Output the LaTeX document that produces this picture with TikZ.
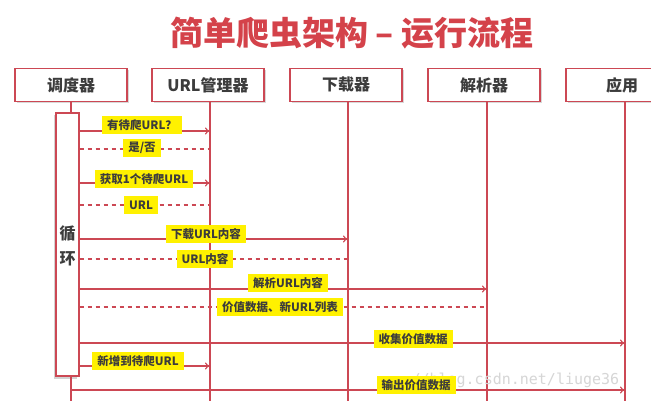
\documentclass[tikz,border=0pt]{standalone}
\usepackage{fontspec}
\setmainfont{Noto Sans CJK SC}
\newfontfamily\wmfont{DejaVu Sans Mono}
\usetikzlibrary{shadows,arrows.meta}
\definecolor{lred}{RGB}{204,72,84}
\definecolor{tred}{RGB}{212,66,74}
\definecolor{labyel}{RGB}{255,241,0}
\definecolor{txt}{RGB}{60,60,60}
\begin{document}
\begin{tikzpicture}[x=1pt,y=-1pt,
  actor/.style={draw=lred, line width=1.6pt, fill=white, minimum width=112pt, minimum height=33pt,
    inner sep=0pt, font=\bfseries\fontsize{16}{16}\selectfont, text=txt,
    drop shadow={shadow xshift=1.5pt, shadow yshift=-1.5pt, fill=black!30}},
  life/.style={draw=lred, line width=1.3pt},
  msg/.style={draw=lred, line width=1.1pt, -{To[length=5pt,width=7pt]}},
  ret/.style={draw=lred, line width=1.1pt, dash pattern=on 4pt off 4pt},
  lab/.style={fill=labyel, text=txt, font=\bfseries\fontsize{11.5}{12}\selectfont,
    inner xsep=5pt, inner ysep=0pt, minimum height=18.5pt}]
\useasboundingbox (0,0) rectangle (651,401);
\fill[white] (0,0) rectangle (651,401);
% title
\node[text=tred, font=\bfseries\fontsize{33}{36}\selectfont] (title) at (352,33) {简单爬虫架构 – 运行流程};
% actors
\node[actor] (a1) at (71,85) {调度器};
\node[actor] (a2) at (208,85) {URL管理器};
\node[actor] (a3) at (346,85) {下载器};
\node[actor] (a4) at (484,85) {解析器};
\node[actor] (a5) at (622,85) {应用};
% lifeline bottoms
\coordinate (b1) at (71,401);
\coordinate (b2) at (210,401);
\coordinate (b3) at (348,401);
\coordinate (b4) at (487,401);
\coordinate (b5) at (625,401);
\draw[life] (a2.south -| b2) -- (b2);
\draw[life] (a3.south -| b3) -- (b3);
\draw[life] (a4.south -| b4) -- (b4);
\draw[life] (a5.south -| b5) -- (b5);
% activation
\node[draw=lred, line width=1.3pt, fill=white, minimum width=23pt, minimum height=263pt, inner sep=0pt,
  drop shadow={shadow xshift=-2pt, shadow yshift=-2.5pt, fill=black!35}] (act) at (67.5,244.5) {};
\draw[life] (a1.south -| b1) -- (act.north -| b1);
\draw[life] (act.south -| b1) -- (b1);
\node[font=\bfseries\fontsize{16}{25}\selectfont, text=txt, align=center] (loop) at (67.5,246) {循\\环};
% watermark (behind the labels)
\node[text=black!16, font=\wmfont\fontsize{15}{15}\selectfont, anchor=west] (wm) at (408,380) {//blog.csdn.net/liuge36};
% message y levels
\coordinate (y1) at (0,131);
\coordinate (y2) at (0,149);
\coordinate (y3) at (0,183);
\coordinate (y4) at (0,205);
\coordinate (y5) at (0,239);
\coordinate (y6) at (0,259);
\coordinate (y7) at (0,289);
\coordinate (y8) at (0,307);
\coordinate (y9) at (0,343);
\coordinate (y10) at (0,366);
\coordinate (y11) at (0,390);
\draw[msg] (act.east |- y1) -- (b2 |- y1);
\draw[ret] (act.east |- y2) -- (b2 |- y2);
\draw[msg] (act.east |- y3) -- (b2 |- y3);
\draw[ret] (act.east |- y4) -- (b2 |- y4);
\draw[msg] (act.east |- y5) -- (b3 |- y5);
\draw[ret] (act.east |- y6) -- (b3 |- y6);
\draw[msg] (act.east |- y7) -- (b4 |- y7);
\draw[ret] (act.east |- y8) -- (b4 |- y8);
\draw[msg] (act.east |- y9) -- (b5 |- y9);
\draw[msg] (act.east |- y10) -- (b2 |- y10);
\draw[msg] (b1 |- y11) -- (b5 |- y11);
% labels
\node[lab] (l1) at (142,125) {有待爬URL？};
\node[lab] (l2) at (142,148) {是/否};
\node[lab] (l3) at (144,179) {获取1个待爬URL};
\node[lab] (l4) at (141,205) {URL};
\node[lab] (l5) at (206,234) {下载URL内容};
\node[lab] (l6) at (205,259) {URL内容};
\node[lab] (l7) at (288,283) {解析URL内容};
\node[lab] (l8) at (280,307) {价值数据、新URL列表};
\node[lab] (l9) at (413,339) {收集价值数据};
\node[lab] (l10) at (138,361) {新增到待爬URL};
\node[lab] (l11) at (416,385) {输出价值数据};
\end{tikzpicture}
\end{document}
